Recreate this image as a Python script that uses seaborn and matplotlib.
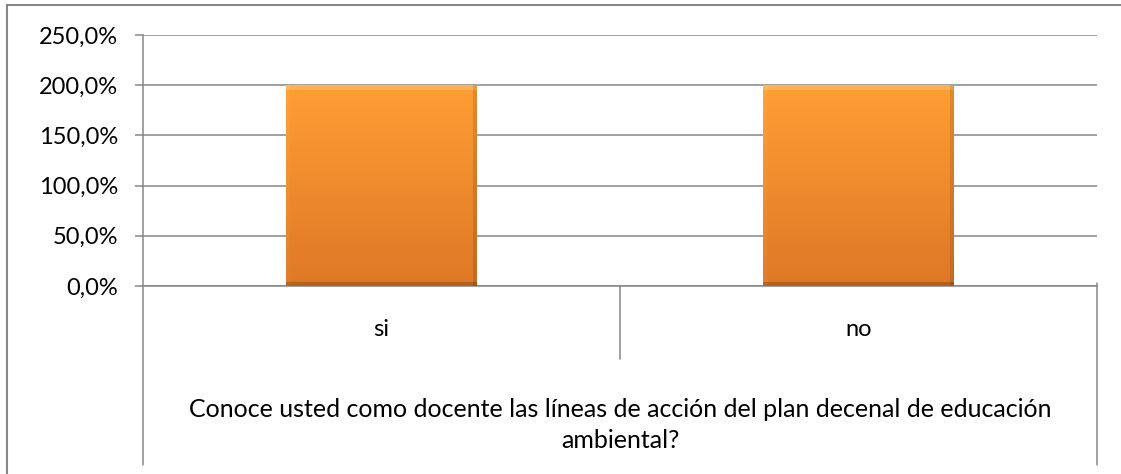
import numpy as np
import pandas as pd
import matplotlib
matplotlib.use("Agg")
import matplotlib.pyplot as plt
import seaborn as sns
from matplotlib.patches import Rectangle
from matplotlib.lines import Line2D

categories = ["si", "no"]
values = [2.0, 2.0]
yticks = [0.0, 0.5, 1.0, 1.5, 2.0, 2.5]
ytick_labels = ["0,0%", "50,0%", "100,0%", "150,0%", "200,0%", "250,0%"]
group_label = "Conoce usted como docente las líneas de acción del plan decenal de educación\nambiental?"

sns.set_theme(style="white")
plt.rcParams["font.family"] = ["Lato", "DejaVu Sans"]

GRAY = "#868686"
W, H, DPI = 1121, 474, 100
fig = plt.figure(figsize=(W / DPI, H / DPI), dpi=DPI)
fig.patch.set_facecolor("white")

def fx(px):
    return px / W

def fy(py):
    return 1 - py / H

ax = fig.add_axes([fx(143), fy(286), fx(1097) - fx(143), fy(35) - fy(286)])

df = pd.DataFrame({"cat": categories, "val": values})
sns.barplot(data=df, x="cat", y="val", color="#F28A2E", width=0.4, ax=ax, zorder=3)

ax.set_ylim(0, 2.5)
ax.set_xlim(-0.5, 1.5)
ax.set_yticks(yticks)
ax.set_yticklabels(ytick_labels)
ax.set_xlabel("")
ax.set_ylabel("")
ax.yaxis.grid(True, color=GRAY, linewidth=1.1, zorder=0)
ax.set_axisbelow(True)
for s in ["top", "right"]:
    ax.spines[s].set_visible(False)
for s in ["left", "bottom"]:
    ax.spines[s].set_color(GRAY)
    ax.spines[s].set_linewidth(1.1)
ax.tick_params(axis="y", length=6, width=1.1, color=GRAY, pad=12,
               labelsize=17, labelcolor="black", left=True, direction="out")
ax.tick_params(axis="x", length=0, pad=24, labelsize=17, labelcolor="black")

# gradient fill with bevel for each bar
ax.figure.canvas.draw()
for p in ax.patches:
    x0, y0, w, h = p.get_x(), p.get_y(), p.get_width(), p.get_height()
    bb = p.get_window_extent()
    nx, ny = max(int(bb.width), 2), max(int(bb.height), 2)
    t = np.linspace(0, 1, ny)[:, None]
    top = np.array([255, 158, 52]) / 255
    bot = np.array([222, 120, 38]) / 255
    img = (top[None, None, :] * (1 - t[..., None]) + bot[None, None, :] * t[..., None])
    img = np.repeat(img, nx, axis=1)
    bw = 5
    img[:bw, :, :] = np.clip(img[:bw, :, :] + np.array([0, 0.08, 0.12]), 0, 1)
    img[:, :bw - 1, :] = np.clip(img[:, :bw - 1, :] + np.array([0, 0.02, 0.03]), 0, 1)
    img[:, -bw + 1:, :] = img[:, -bw + 1:, :] * 0.88
    img[-bw + 1:, :, :] = img[-bw + 1:, :, :] * 0.82
    im = ax.imshow(img, extent=(x0, x0 + w, y0, y0 + h), aspect="auto",
                   zorder=p.get_zorder() + 0.1, interpolation="bilinear")
    im.set_clip_path(p)
    p.set_edgecolor("none")
ax.set_xlim(-0.5, 1.5)
ax.set_ylim(0, 2.5)

# multi-level category axis lines
trans = ax.transAxes
ax_h = 286 - 35
def ay(py):
    return (286 - py) / ax_h
for xa, ybot in [(0.0, 465), (0.5, 359), (1.0, 465)]:
    ax.add_line(Line2D([xa, xa], [ay(283) if xa == 1.0 else 0, ay(ybot)], transform=trans,
                       color=GRAY, linewidth=1.1, clip_on=False))

ax.text(0.5, ay(425), group_label, transform=ax.transAxes, ha="center", va="center",
        fontsize=18, color="black", linespacing=1.45)

# outer chart border
fig.add_artist(Rectangle((fx(7), fy(480)), fx(1130) - fx(7), fy(5) - fy(480),
                         transform=fig.transFigure, fill=False, edgecolor=GRAY,
                         linewidth=1.5, clip_on=False))

fig.savefig("out.png", dpi=DPI, facecolor="white")
